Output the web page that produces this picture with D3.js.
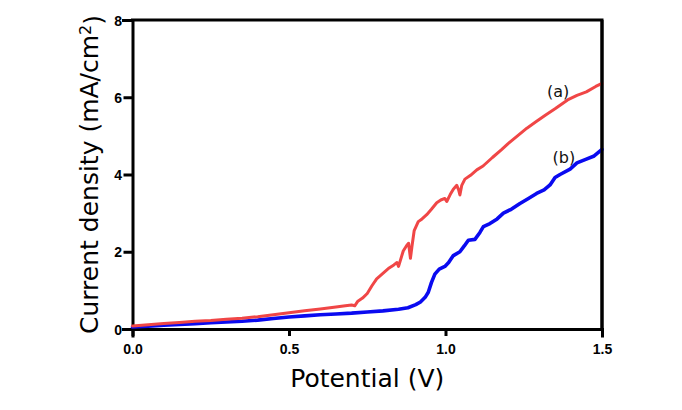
<!DOCTYPE html>
<html>
<head>
<meta charset="utf-8">
<script src="https://cdn.jsdelivr.net/npm/d3@7"></script>
<style>
  html, body { margin: 0; padding: 0; background: #fff; }
  svg { display: block; }
</style>
</head>
<body>
<svg id="chart" width="682" height="410"></svg>
<script>
// ---- Data ----
const xTicks = [0.0, 0.5, 1.0, 1.5];
const yTicks = [0, 2, 4, 6, 8];

const potentialA = [0, 0.05, 0.1, 0.15, 0.2, 0.25, 0.3, 0.35, 0.4, 0.45, 0.5, 0.55, 0.6, 0.65, 0.68, 0.7, 0.71, 0.72, 0.735, 0.75, 0.765, 0.78, 0.8, 0.82, 0.835, 0.845, 0.85, 0.865, 0.875, 0.882, 0.888, 0.893, 0.9, 0.913, 0.925, 0.94, 0.955, 0.972, 0.985, 0.998, 1.004, 1.015, 1.025, 1.036, 1.042, 1.046, 1.052, 1.062, 1.08, 1.1, 1.12, 1.15, 1.18, 1.2, 1.23, 1.26, 1.29, 1.32, 1.35, 1.39, 1.42, 1.45, 1.48, 1.5];
const currentA = [0.08, 0.11, 0.14, 0.17, 0.2, 0.22, 0.25, 0.28, 0.32, 0.37, 0.42, 0.47, 0.52, 0.57, 0.6, 0.62, 0.6, 0.72, 0.8, 0.92, 1.12, 1.3, 1.44, 1.58, 1.66, 1.72, 1.62, 2.02, 2.15, 2.22, 1.83, 2.15, 2.55, 2.78, 2.85, 2.96, 3.1, 3.27, 3.34, 3.38, 3.30, 3.48, 3.62, 3.72, 3.6, 3.47, 3.72, 3.88, 3.98, 4.12, 4.22, 4.44, 4.65, 4.8, 5.0, 5.2, 5.37, 5.54, 5.7, 5.93, 6.05, 6.14, 6.28, 6.36];

const potentialB = [0, 0.05, 0.1, 0.15, 0.2, 0.25, 0.3, 0.35, 0.4, 0.45, 0.5, 0.55, 0.6, 0.65, 0.7, 0.75, 0.8, 0.85, 0.88, 0.905, 0.92, 0.935, 0.945, 0.955, 0.966, 0.98, 0.998, 1.01, 1.025, 1.046, 1.06, 1.073, 1.094, 1.11, 1.121, 1.142, 1.165, 1.185, 1.21, 1.238, 1.265, 1.291, 1.315, 1.334, 1.35, 1.366, 1.398, 1.42, 1.45, 1.475, 1.5];
const currentB = [0.05, 0.07, 0.1, 0.12, 0.14, 0.16, 0.18, 0.2, 0.23, 0.27, 0.31, 0.34, 0.37, 0.39, 0.41, 0.44, 0.47, 0.51, 0.55, 0.63, 0.7, 0.82, 0.95, 1.2, 1.42, 1.55, 1.62, 1.72, 1.9, 2.0, 2.15, 2.3, 2.32, 2.5, 2.65, 2.73, 2.85, 3.0, 3.1, 3.25, 3.38, 3.51, 3.6, 3.73, 3.92, 4.0, 4.14, 4.3, 4.4, 4.48, 4.65];

const seriesLabels = ["(a)", "(b)"];
const labelAnchors = [{x: 1.36, y: 6.0}, {x: 1.378, y: 4.3}];

// ---- Layout ----
const svg = d3.select("#chart");
const mLeft = 132.5, mRight = 602, mTop = 20, mBottom = 329;

const x = d3.scaleLinear().domain([0, 1.5]).range([mLeft, mRight]);
const y = d3.scaleLinear().domain([0, 8]).range([mBottom, mTop]);

const axisFont = "'Liberation Sans', Arial, sans-serif";
const titleFont = "'DejaVu Sans', Verdana, sans-serif";

// frame (top & right)
svg.append("path")
  .attr("d", `M${mLeft},${mTop}H${mRight}V${mBottom}`)
  .attr("fill", "none").attr("stroke", "#000").attr("stroke-width", 3)
  .attr("stroke-linecap", "square");

// axes
const xAxis = svg.append("g").attr("transform", `translate(0,${mBottom})`)
  .call(d3.axisBottom(x).tickValues(xTicks).tickFormat(d3.format(".1f")).tickSize(7).tickPadding(8));
const yAxis = svg.append("g").attr("transform", `translate(${mLeft},0)`)
  .call(d3.axisLeft(y).tickValues(yTicks).tickFormat(d3.format("d")).tickSize(9).tickPadding(1.5));

[xAxis, yAxis].forEach(g => {
  g.attr("font-size", 14).attr("font-family", axisFont);
  g.select(".domain").attr("stroke", "#000").attr("stroke-width", 3).attr("stroke-linecap", "square");
  g.selectAll(".tick line").attr("stroke", "#000").attr("stroke-width", 3);
  g.selectAll(".tick text").attr("fill", "#000")
    .style("font-family", axisFont).style("font-weight", "bold").style("font-size", "14px");
});
yAxis.selectAll(".tick text").attr("dy", "0.36em");

// lines
const line = d3.line().x(d => x(d[0])).y(d => y(d[1]));
const dataA = potentialA.map((v, i) => [v, currentA[i]]);
const dataB = potentialB.map((v, i) => [v, currentB[i]]);

svg.append("path").datum(dataB)
  .attr("d", line).attr("fill", "none")
  .attr("stroke", "#0a0af0").attr("stroke-width", 3.6)
  .attr("stroke-linejoin", "round").attr("stroke-linecap", "round");
svg.append("path").datum(dataA)
  .attr("d", line).attr("fill", "none")
  .attr("stroke", "#f04646").attr("stroke-width", 3)
  .attr("stroke-linejoin", "round").attr("stroke-linecap", "round");

// re-draw right frame on top of curve ends
svg.append("line").attr("x1", mRight).attr("x2", mRight).attr("y1", mTop).attr("y2", mBottom)
  .attr("stroke", "#000").attr("stroke-width", 3);

// series labels
svg.selectAll("text.lbl").data(seriesLabels).enter().append("text")
  .attr("class", "lbl")
  .attr("x", (d, i) => x(labelAnchors[i].x))
  .attr("y", (d, i) => y(labelAnchors[i].y))
  .attr("text-anchor", "middle")
  .style("font-family", titleFont).style("font-size", "16px").attr("fill", "#111")
  .text(d => d);

// axis titles
svg.append("text")
  .attr("x", (mLeft + mRight) / 2).attr("y", 387)
  .attr("text-anchor", "middle")
  .style("font-family", titleFont).style("font-size", "25px").attr("fill", "#000")
  .text("Potential (V)");

const yt = svg.append("text")
  .attr("transform", `translate(98,${(mTop + mBottom) / 2}) rotate(-90)`)
  .attr("text-anchor", "middle")
  .style("font-family", titleFont).style("font-size", "25px").attr("fill", "#000");
yt.append("tspan").text("Current density (mA/cm");
yt.append("tspan").attr("dy", "-0.45em").style("font-size", "16px").text("2");
yt.append("tspan").attr("dy", "0.45em").text(")");
</script>
</body>
</html>
